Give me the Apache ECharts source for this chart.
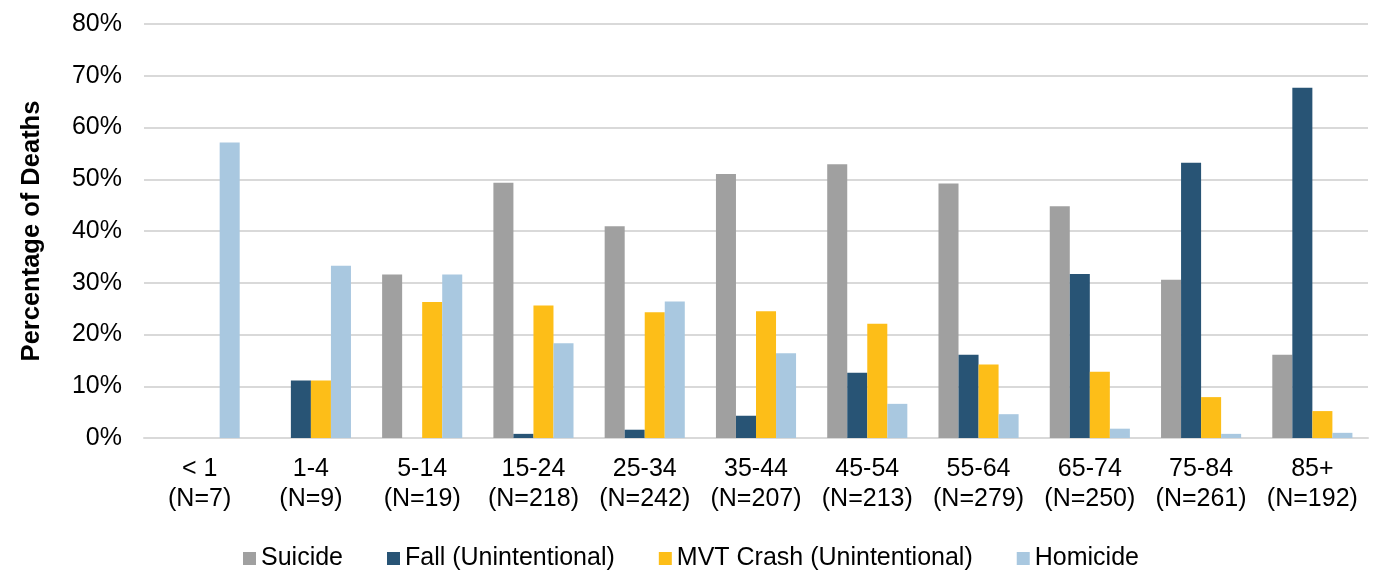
<!DOCTYPE html>
<html>
<head>
<meta charset="utf-8">
<script src="https://cdn.jsdelivr.net/npm/echarts@6/dist/echarts.min.js"></script>
<style>
    html, body { margin: 0; padding: 0; background: #fff; }
    #main { width: 1374px; height: 573px; }
</style>
</head>
<body>
<div id="main"></div>
<script>
var ageGroups = ['< 1', '1-4', '5-14', '15-24', '25-34', '35-44', '45-54', '55-64', '65-74', '75-84', '85+'];
var groupN = [7, 9, 19, 218, 242, 207, 213, 279, 250, 261, 192];
var yTicks = [0, 10, 20, 30, 40, 50, 60, 70, 80];

var suicide = [0, 0, 31.6, 49.3, 40.9, 51.0, 52.9, 49.2, 44.8, 30.6, 16.1];
var fall = [0, 11.1, 0, 0.8, 1.6, 4.3, 12.6, 16.1, 31.7, 53.2, 67.7];
var mvtCrash = [0, 11.1, 26.3, 25.6, 24.3, 24.5, 22.1, 14.2, 12.8, 7.9, 5.2];
var homicide = [57.1, 33.3, 31.6, 18.3, 26.4, 16.4, 6.6, 4.6, 1.8, 0.8, 1.0];

var font = 'Liberation Sans, Arial, sans-serif';

function bar(name, data, color) {
    return {
        name: name,
        type: 'bar',
        data: data,
        barGap: '0%',
        barCategoryGap: '28%',
        itemStyle: { color: color },
        animation: false
    };
}

var labels = [];
for (var i = 0; i < ageGroups.length; i++) {
    labels.push(ageGroups[i] + '\n(N=' + groupN[i] + ')');
}

var myChart = echarts.init(document.getElementById('main'));
var option = {
    backgroundColor: '#fff',
    textStyle: { fontFamily: font },
    grid: { left: 144, right: 6, top: 24, bottom: 135 },
    legend: {
        top: 541,
        left: 238,
        itemWidth: 13,
        itemHeight: 13,
        itemGap: 44,
        icon: 'rect',
        textStyle: { fontSize: 25, color: '#000', fontFamily: font }
    },
    xAxis: {
        type: 'category',
        data: labels,
        axisTick: { show: false },
        axisLine: { lineStyle: { color: '#d9d9d9', width: 2 } },
        axisLabel: { fontSize: 25, color: '#000', lineHeight: 30, margin: 16, interval: 0 }
    },
    yAxis: {
        type: 'value',
        min: yTicks[0],
        max: yTicks[yTicks.length - 1],
        interval: 10,
        name: 'Percentage of Deaths',
        nameLocation: 'middle',
        nameGap: 99,
        nameTextStyle: { fontSize: 25.5, fontWeight: 'bold', color: '#000' },
        axisLabel: { fontSize: 25, color: '#000', margin: 22, formatter: '{value}%' },
        splitLine: { lineStyle: { color: '#d9d9d9', width: 2 } }
    },
    series: [
        bar('Suicide', suicide, '#a0a0a0'),
        bar('Fall (Unintentional)', fall, '#285475'),
        bar('MVT Crash (Unintentional)', mvtCrash, '#fdbe18'),
        bar('Homicide', homicide, '#a9c8e0')
    ]
};
myChart.setOption(option, true);
</script>
</body>
</html>
